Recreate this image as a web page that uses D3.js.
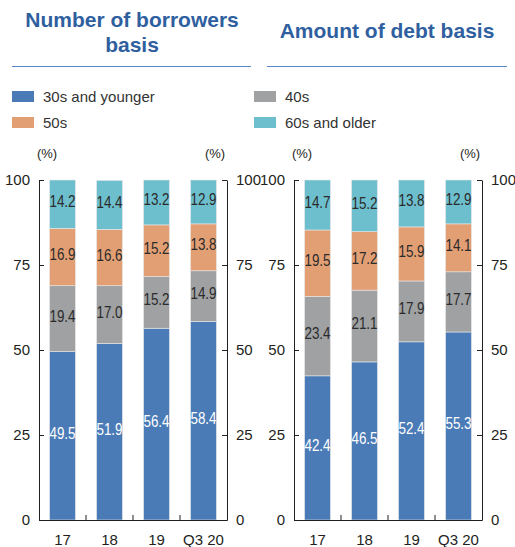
<!DOCTYPE html>
<html>
<head>
<meta charset="utf-8">
<script src="https://cdn.jsdelivr.net/npm/d3@7"></script>
<style>
    body { margin: 0; background: #fff; }
    svg { display: block; font-family: "Liberation Sans", Arial, sans-serif; }
    .axis text { font-size: 15px; fill: #231f20; }
    .axis path, .axis line { stroke: #231f20; stroke-width: 1; }
    .vlabel { font-family: "Liberation Sans", Arial, sans-serif; font-size: 16px; }
</style>
</head>
<body>
<script>
// categories and series
const years = ['17', '18', '19', 'Q3 20']
const seriesNames = ['30s and younger', '40s', '50s', '60s and older']
const seriesKeys = ['s30', 's40', 's50', 's60']
const colors = ['#4b7bb6', '#9fa1a3', '#e39f74', '#6dbfce']

// number of borrowers basis
const borrowers30 = [49.5, 51.9, 56.4, 58.4]
const borrowers40 = [19.4, 17.0, 15.2, 14.9]
const borrowers50 = [16.9, 16.6, 15.2, 13.8]
const borrowers60 = [14.2, 14.4, 13.2, 12.9]

// amount of debt basis
const debt30 = [42.4, 46.5, 52.4, 55.3]
const debt40 = [23.4, 21.1, 17.9, 17.7]
const debt50 = [19.5, 17.2, 15.9, 14.1]
const debt60 = [14.7, 15.2, 13.8, 12.9]

const yTicks = [0, 25, 50, 75, 100]

const W = 515, H = 547
const svg = d3.select('body').append('svg').attr('width', W).attr('height', H)

const titleColor = '#2f5f9f'

function make_rows(a, b, c, d) {
    return years.map((y, i) => ({ year: y, s30: a[i], s40: b[i], s50: c[i], s60: d[i] }))
}

// titles
svg.append('text').attr('x', 132).attr('y', 27).attr('text-anchor', 'middle')
    .style('font-size', '21px').style('font-weight', 'bold').style('fill', titleColor)
    .text('Number of borrowers')
svg.append('text').attr('x', 132).attr('y', 52).attr('text-anchor', 'middle')
    .style('font-size', '21px').style('font-weight', 'bold').style('fill', titleColor)
    .text('basis')
svg.append('text').attr('x', 387).attr('y', 38).attr('text-anchor', 'middle')
    .style('font-size', '21px').style('font-weight', 'bold').style('fill', titleColor)
    .text('Amount of debt basis')
svg.append('line').attr('x1', 12).attr('x2', 251).attr('y1', 66.5).attr('y2', 66.5)
    .style('stroke', '#5b88c4').style('stroke-width', 1)
svg.append('line').attr('x1', 267).attr('x2', 507).attr('y1', 66.5).attr('y2', 66.5)
    .style('stroke', '#5b88c4').style('stroke-width', 1)

// legend (order: 30s, 40s / 50s, 60s)
const legendPos = [[12, 91], [254, 91], [12, 117], [254, 117]]
const legendOrder = [0, 1, 2, 3]
let lg = svg.append('g').selectAll('g').data(legendOrder).enter().append('g')
    .attr('transform', (d, i) => 'translate(' + legendPos[i][0] + ',' + legendPos[i][1] + ')')
lg.append('rect').attr('width', 22).attr('height', 11).style('fill', d => colors[d])
lg.append('text').attr('x', 31).attr('y', 11).style('font-size', '15px').style('fill', '#333')
    .text(d => seriesNames[d])

function make_chart(offsetX, rows) {
    let g = svg.append('g').attr('transform', 'translate(' + offsetX + ',0)')
    let x0 = 39, x1 = 227, yTop = 180, yBot = 520

    let xScale = d3.scaleBand().domain(years).range([x0, x1])
        .paddingInner(0.45).paddingOuter(0.225)
    let yScale = d3.scaleLinear().domain([0, 100]).range([yBot, yTop])

    let stacked = d3.stack().keys(seriesKeys)(rows)

    // bars
    let layers = g.append('g').selectAll('g').data(stacked).enter().append('g')
        .style('fill', (d, i) => colors[i])
    layers.selectAll('rect').data(d => d).enter().append('rect')
        .attr('x', d => xScale(d.data.year))
        .attr('y', d => yScale(d[1]))
        .attr('width', xScale.bandwidth())
        .attr('height', d => yScale(d[0]) - yScale(d[1]))
        .style('stroke', '#e8e8e8').style('stroke-width', 0.6)

    // value labels, squeezed to look like a condensed face
    stacked.forEach((layer, li) => {
        g.append('g').selectAll('text').data(layer).enter().append('text')
            .attr('class', 'vlabel')
            .attr('transform', d => 'translate(' + (xScale(d.data.year) + xScale.bandwidth() / 2) + ',' +
                (yScale((d[0] + d[1]) / 2) + 3) + ') scale(0.84,1)')
            .attr('text-anchor', 'middle')
            .style('fill', li == 0 ? '#ffffff' : '#2b2b2b')
            .text(d => (d[1] - d[0]).toFixed(1))
    })

    // y axes
    let yAxisL = d3.axisLeft(yScale).tickValues(yTicks).tickSize(-5).tickSizeOuter(0).tickPadding(9)
    let yAxisR = d3.axisRight(yScale).tickValues(yTicks).tickSize(-5).tickSizeOuter(0).tickPadding(9)
    g.append('g').attr('class', 'axis').attr('transform', 'translate(' + x0 + ',0)').call(yAxisL)
    g.append('g').attr('class', 'axis').attr('transform', 'translate(' + x1 + ',0)').call(yAxisR)

    // x axis, ticks sit between the categories
    let xAxis = d3.axisBottom(xScale).tickSize(0).tickSizeOuter(0).tickPadding(14)
    let gx = g.append('g').attr('class', 'axis').attr('transform', 'translate(0,' + yBot + ')').call(xAxis)
    let step = xScale.step()
    gx.selectAll('.sep').data(years.slice(1)).enter().append('line')
        .attr('class', 'sep')
        .attr('x1', d => xScale(d) - step * xScale.paddingInner() / 2)
        .attr('x2', d => xScale(d) - step * xScale.paddingInner() / 2)
        .attr('y1', 0).attr('y2', -5)

    // unit labels
    g.append('text').attr('x', 47).attr('y', 158).attr('text-anchor', 'middle')
        .style('font-size', '13px').style('fill', '#231f20').text('(%)')
    g.append('text').attr('x', 215).attr('y', 158).attr('text-anchor', 'middle')
        .style('font-size', '13px').style('fill', '#231f20').text('(%)')
}

make_chart(0, make_rows(borrowers30, borrowers40, borrowers50, borrowers60))
make_chart(255, make_rows(debt30, debt40, debt50, debt60))
</script>
</body>
</html>
